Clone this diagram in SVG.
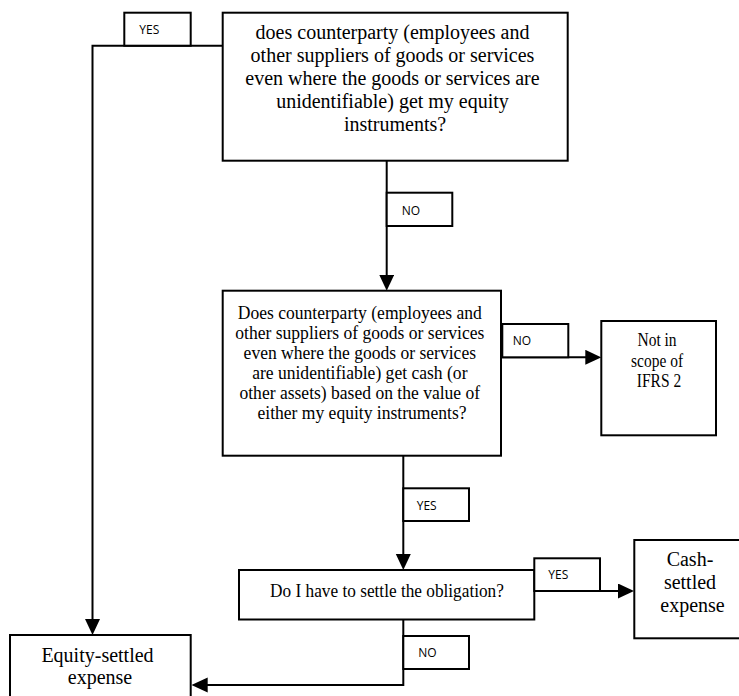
<svg xmlns="http://www.w3.org/2000/svg" width="739" height="696" viewBox="0 0 739 696">
  <style>
    .box { fill: #fff; stroke: #000; stroke-width: 2; }
    .lbl { fill: #fff; stroke: #000; stroke-width: 2; }
    .t { font-family: "Liberation Serif", "Times New Roman", serif; font-size: 20px; fill: #000; text-anchor: middle; }
    .tc { font-family: "Liberation Serif", "Times New Roman", serif; font-size: 19.5px; fill: #000; text-anchor: middle; }
    .ts { font-family: "Liberation Serif", "Times New Roman", serif; font-size: 18px; fill: #000; text-anchor: middle; }
    .l { font-family: "Open Sans", "Liberation Sans", sans-serif; font-size: 12px; fill: #000; }
    .c { fill: none; stroke: #000; stroke-width: 2; }
  </style>
  <defs>
    <marker id="arr" markerUnits="userSpaceOnUse" markerWidth="16" markerHeight="16" refX="6" refY="7.5" orient="auto">
      <path d="M0,0 L16,7.5 L0,15 z" fill="#000"/>
    </marker>
  </defs>
  <rect width="739" height="696" fill="#fff"/>

  <g id="connectors">
    <polyline class="c" points="222.7,45.7 92.5,45.7 92.5,625" marker-end="url(#arr)"/>
    <polyline class="c" points="386.7,160.7 386.7,280.7" marker-end="url(#arr)"/>
    <polyline class="c" points="501,357.3 591.3,357.3" marker-end="url(#arr)"/>
    <polyline class="c" points="403.3,455.7 403.3,560" marker-end="url(#arr)"/>
    <polyline class="c" points="534.3,591 624,591" marker-end="url(#arr)"/>
    <polyline class="c" points="403.3,619.3 403.3,685 201.7,685" marker-end="url(#arr)"/>
  </g>

  <g id="q1">
    <rect class="box" x="222.7" y="12.7" width="345" height="148"/>
    <text class="t" x="395" y="39">
      <tspan x="395" y="39">does counterparty (employees and</tspan>
      <tspan x="395" y="62">other suppliers of goods or services</tspan>
      <tspan x="395" y="85">even where the goods or services are</tspan>
      <tspan x="395" y="108">unidentifiable) get my equity</tspan>
      <tspan x="395" y="131">instruments?</tspan>
    </text>
  </g>

  <g id="q2">
    <rect class="box" x="222.7" y="290.7" width="278.3" height="165"/>
    <text class="tc" transform="translate(362,0) scale(0.9,1)">
      <tspan x="0" y="319">Does counterparty (employees and</tspan>
      <tspan x="0" y="339">other suppliers of goods or services</tspan>
      <tspan x="0" y="359">even where the goods or services</tspan>
      <tspan x="0" y="379">are unidentifiable) get cash (or</tspan>
      <tspan x="0" y="399">other assets) based on the value of</tspan>
      <tspan x="0" y="419">either my equity instruments?</tspan>
    </text>
  </g>

  <g id="notscope">
    <rect class="box" x="601.3" y="321" width="114.7" height="114.3"/>
    <text class="ts" transform="translate(659,0) scale(0.86,1)">
      <tspan x="0" y="346">Not in</tspan>
      <tspan x="0" y="367">scope of</tspan>
      <tspan x="0" y="387">IFRS 2</tspan>
    </text>
  </g>

  <g id="q3">
    <rect class="box" x="239" y="570" width="295.3" height="49.5"/>
    <text class="tc" transform="translate(387,0) scale(0.885,1)" x="0" y="597">Do I have to settle the obligation?</text>
  </g>

  <g id="cash">
    <rect class="box" x="634.3" y="540" width="108" height="98.3"/>
    <text class="t" x="692.5">
      <tspan x="692.5" y="566">Cash-</tspan>
      <tspan x="692.5" y="589">settled</tspan>
      <tspan x="692.5" y="612">expense</tspan>
    </text>
  </g>

  <g id="equity">
    <rect class="box" x="10" y="635" width="180.7" height="70"/>
    <text class="t" x="100">
      <tspan x="100" y="661.5">Equity-settled</tspan>
      <tspan x="100" y="684">expense</tspan>
    </text>
  </g>

  <g id="label-yes-1">
    <rect class="lbl" x="124.3" y="12.7" width="66.4" height="33"/>
    <text class="l" x="139.3" y="34.3">YES</text>
  </g>
  <g id="label-no-1">
    <rect class="lbl" x="386.7" y="192.7" width="65.6" height="33.3"/>
    <text class="l" x="401.7" y="215">NO</text>
  </g>
  <g id="label-no-2">
    <rect class="lbl" x="502.3" y="324" width="66" height="33.3"/>
    <text class="l" x="512.7" y="345">NO</text>
  </g>
  <g id="label-yes-2">
    <rect class="lbl" x="403.3" y="488.3" width="65.7" height="32.7"/>
    <text class="l" x="416.7" y="510">YES</text>
  </g>
  <g id="label-yes-3">
    <rect class="lbl" x="534.3" y="558.3" width="65.7" height="32.7"/>
    <text class="l" x="548.3" y="579.3">YES</text>
  </g>
  <g id="label-no-3">
    <rect class="lbl" x="403.3" y="636" width="65.7" height="33"/>
    <text class="l" x="418.3" y="657.3">NO</text>
  </g>
</svg>
